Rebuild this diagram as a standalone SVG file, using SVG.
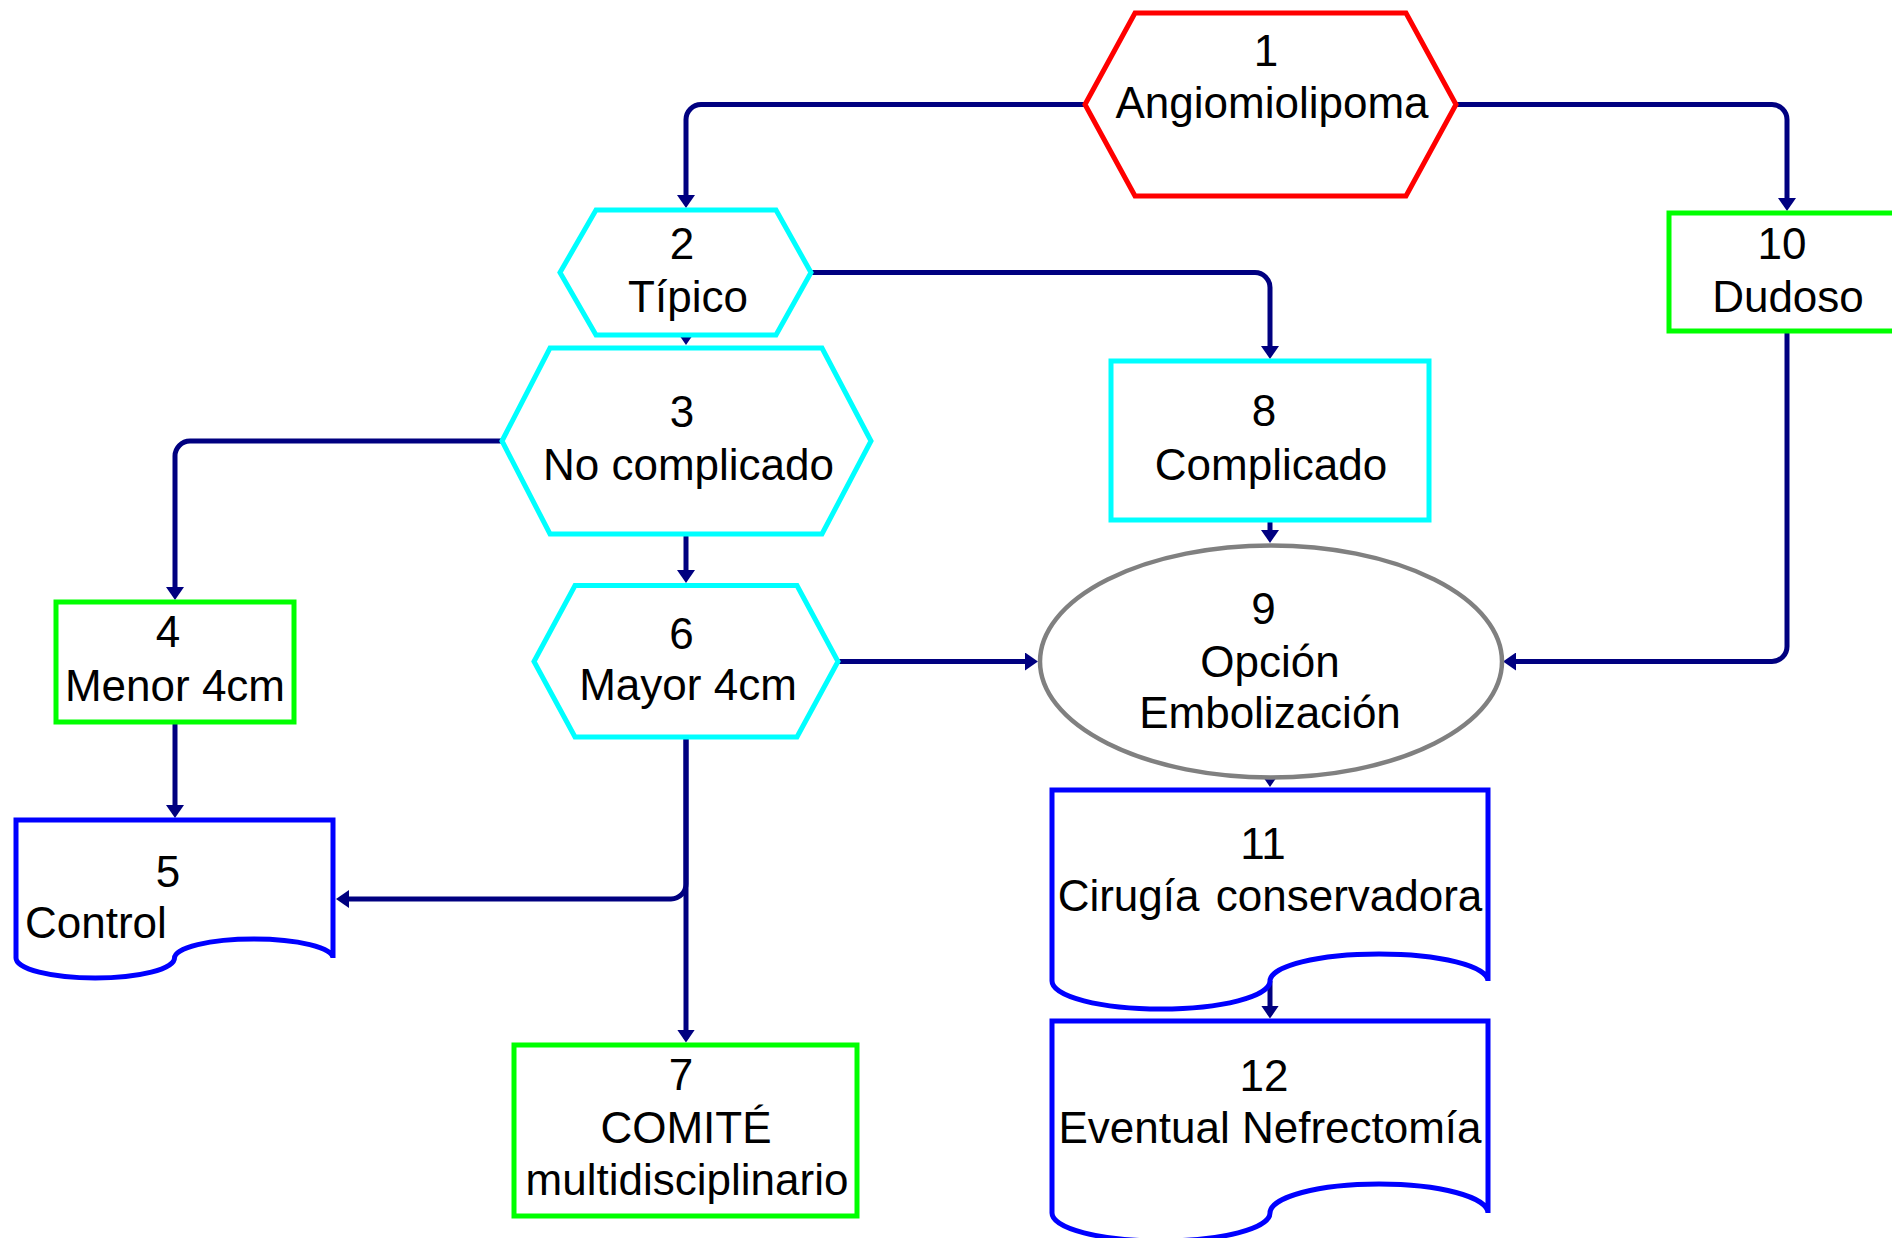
<svg xmlns="http://www.w3.org/2000/svg" width="1892" height="1238" viewBox="0 0 1892 1238">
<style>
.t{font-family:"Liberation Sans",Arial,sans-serif;font-size:44px;fill:#000;text-anchor:middle}
.c{fill:none;stroke:#000080;stroke-width:5;marker-end:url(#ah)}
.red{fill:#fff;stroke:#FF0000;stroke-width:5}
.cy{fill:#fff;stroke:#00FFFF;stroke-width:5}
.gr{fill:#fff;stroke:#00FF00;stroke-width:5}
.bl{fill:#fff;stroke:#0000FF;stroke-width:5}
.gy{fill:#fff;stroke:#808080;stroke-width:4.5}
</style>
<defs>
<marker id="ah" markerUnits="userSpaceOnUse" markerWidth="13" markerHeight="18" refX="9" refY="9" orient="auto" viewBox="0 0 13 18"><path d="M0,0 L13,9 L0,18 Z" fill="#000080"/></marker>
</defs>
<rect x="0" y="0" width="1892" height="1238" fill="#fff"/>
<g id="connectors">
<path class="c" d="M1085,104.5 H701 A15,15 0 0 0 686,119.5 V204"/>
<path class="c" d="M1456,104.5 H1772 A15,15 0 0 1 1787,119.5 V207"/>
<path class="c" d="M811,272.5 H1255 A15,15 0 0 1 1270,287.5 V355"/>
<path class="c" d="M686,334 V341"/>
<path class="c" d="M502,441 H190 A15,15 0 0 0 175,456 V596"/>
<path class="c" d="M686,534 V579"/>
<path class="c" d="M175,722 V814"/>
<path class="c" d="M686,737 V884 A15,15 0 0 1 671,899 H340"/>
<path class="c" d="M686,737 V1038.5"/>
<path class="c" d="M838,661.5 H1034"/>
<path class="c" d="M1787,331 V646.5 A15,15 0 0 1 1772,661.5 H1507"/>
<path class="c" d="M1270,520 V539"/>
<path class="c" d="M1270,776 V783"/>
<path class="c" d="M1270,981 V1014.5"/>
</g>
<g id="node1">
<polygon class="red" points="1085,104.5 1135,13 1406,13 1456,104.5 1406,196 1135,196"/>
<text class="t" x="1266" y="65.5">1</text>
<text class="t" x="1272" y="117.7">Angiomiolipoma</text>
</g>
<g id="node2">
<polygon class="cy" points="560,272.5 596,210 776,210 811,272.5 776,335 596,335"/>
<text class="t" x="682" y="258.6">2</text>
<text class="t" x="688" y="312">Típico</text>
</g>
<g id="node3">
<polygon class="cy" points="502,441 550,348 822,348 871,441 822,534 550,534"/>
<text class="t" x="682" y="427.2">3</text>
<text class="t" x="688.5" y="479.7">No complicado</text>
</g>
<g id="node4">
<rect class="gr" x="56" y="602" width="238" height="120"/>
<text class="t" x="168" y="647.4">4</text>
<text class="t" x="175" y="700.7">Menor 4cm</text>
</g>
<g id="node5">
<path class="bl" d="M16,820 H333 V958 A79.25,19 0 0 0 174.5,958 A79.25,20 0 0 1 16,958 Z"/>
<text class="t" x="168" y="886.7">5</text>
<text class="t" x="25" y="938" style="text-anchor:start">Control</text>
</g>
<g id="node6">
<polygon class="cy" points="534,661.5 575,585.5 797,585.5 838,661.5 797,737 575,737"/>
<text class="t" x="681.5" y="648.6">6</text>
<text class="t" x="688" y="700">Mayor 4cm</text>
</g>
<g id="node7">
<rect class="gr" x="514" y="1045" width="343" height="171"/>
<text class="t" x="681" y="1089.6">7</text>
<text class="t" x="686" y="1143">COMITÉ</text>
<text class="t" x="687" y="1195.4">multidisciplinario</text>
</g>
<g id="node8">
<rect class="cy" x="1111" y="361" width="318" height="159"/>
<text class="t" x="1264" y="426.4">8</text>
<text class="t" x="1271" y="479.7">Complicado</text>
</g>
<g id="node9">
<ellipse class="gy" cx="1271" cy="661.5" rx="231" ry="116"/>
<text class="t" x="1263.5" y="624">9</text>
<text class="t" x="1270" y="676.5">Opción</text>
<text class="t" x="1270" y="728">Embolización</text>
</g>
<g id="node10">
<rect class="gr" x="1669" y="213" width="234" height="118"/>
<text class="t" x="1782" y="259">10</text>
<text class="t" x="1788" y="311.7">Dudoso</text>
</g>
<g id="node11">
<path class="bl" d="M1052,790 H1488 V981 A109,27 0 0 0 1270,981 A109,28 0 0 1 1052,981 Z"/>
<text class="t" x="1263" y="858.6">11</text>
<text class="t" x="1270" y="911" word-spacing="4">Cirugía conservadora</text>
</g>
<g id="node12">
<path class="bl" d="M1052,1021 H1488 V1213 A109,29 0 0 0 1270,1213 A109,28 0 0 1 1052,1213 Z"/>
<text class="t" x="1264" y="1090.8">12</text>
<text class="t" x="1270" y="1143.3">Eventual Nefrectomía</text>
</g>
</svg>
